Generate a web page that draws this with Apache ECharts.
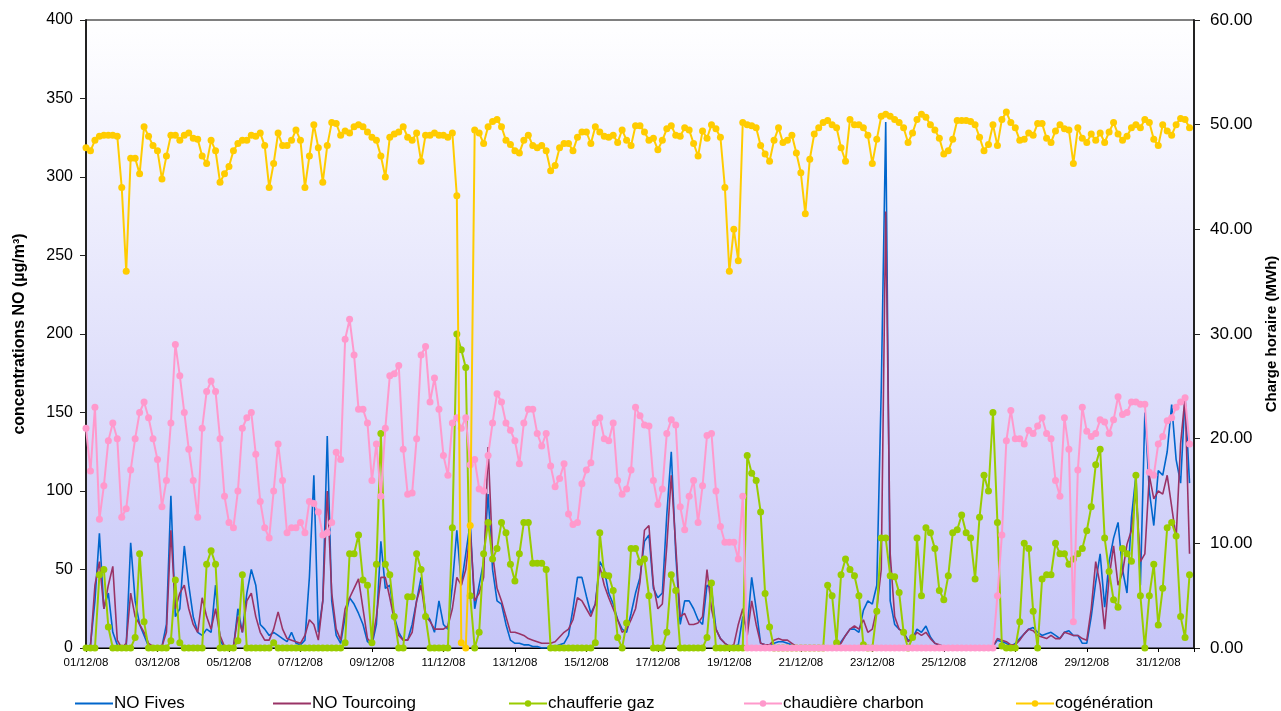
<!DOCTYPE html>
<html><head><meta charset="utf-8">
<script src="https://cdn.jsdelivr.net/npm/echarts@6/dist/echarts.min.js"></script>
<style>html,body{margin:0;padding:0;background:#fff}#c{width:1281px;height:711px}</style>
</head><body><div id="c"></div>
<script>
// 3-hour samples, December 2008 (8 per day, 31 days)
var tickLabels = ['01/12/08','03/12/08','05/12/08','07/12/08','09/12/08','11/12/08','13/12/08','15/12/08','17/12/08','19/12/08','21/12/08','23/12/08','25/12/08','27/12/08','29/12/08','31/12/08'];
var stepHours = 3;

var noFives = [
0,2,30,73,25,35,10,2, 0,1,67,30,15,8,1,0, 0,1,15,97,20,25,65,40, 20,10,8,12,10,40,5,0,
0,0,25,10,35,50,40,15, 12,8,10,8,6,4,10,3, 2,5,45,110,10,30,135,30, 8,3,20,32,28,22,15,4,
2,15,68,38,40,20,10,5, 5,15,30,45,22,18,10,30, 15,12,40,75,40,60,80,25, 40,55,98,50,30,28,15,5,
3,3,2,2,1,1,0,0, 1,1,2,3,8,25,45,45, 33,22,28,55,50,35,28,18, 12,10,22,35,45,68,72,38,
32,35,85,125,60,15,30,30, 25,18,15,40,38,12,6,3, 1,1,2,20,12,45,25,3, 2,1,3,4,4,3,2,1,
1,1,0,0,0,0,0,1, 1,4,8,12,12,10,24,30, 28,40,165,335,30,15,12,10, 5,6,12,10,14,7,3,1,
1,1,0,0,0,0,0,0, 0,0,0,1,5,4,3,1, 3,6,9,12,13,10,8,9, 10,8,6,10,11,8,8,3,
3,20,42,60,26,55,70,80, 50,35,83,110,40,150,100,78, 113,110,125,155,120,105,160,105
];
var noTourcoing = [
0,1,40,55,25,40,52,5, 0,3,35,20,15,10,3,1, 0,1,10,75,25,35,40,25, 15,10,32,20,12,25,8,1,
0,1,20,10,30,35,20,10, 5,5,12,23,12,6,5,4, 3,8,18,15,5,30,100,35, 12,5,25,32,38,44,25,6,
3,20,45,45,32,18,8,5, 5,10,30,40,20,17,12,12, 12,14,25,45,40,50,75,30, 35,45,128,60,38,30,20,10,
10,9,8,6,5,4,3,3, 3,4,7,10,12,18,32,30, 25,20,28,52,40,32,25,18, 10,12,18,25,42,75,78,40,
25,28,65,110,65,20,22,15, 15,16,20,50,25,12,6,3, 1,2,15,25,8,30,15,3, 2,2,5,6,5,5,3,1,
1,1,1,0,0,0,1,1, 0,3,8,12,14,12,18,10, 12,25,50,278,60,20,12,10, 4,6,10,8,10,6,3,2,
1,1,0,0,0,0,0,0, 0,0,0,1,6,5,4,2, 2,5,9,12,11,8,7,6, 8,6,6,10,9,8,8,6,
5,25,55,40,12,45,65,40, 48,66,75,100,55,60,110,95, 100,98,110,90,70,130,160,60
];
var chaufferieGaz = [
0,0,0,7,7.5,2,0,0, 0,0,0,1,9,2.5,0,0, 0,0,0,0.7,6.5,0.5,0,0, 0,0,0,8,9.3,8,0,0,
0,0,0.7,7,0,0,0,0, 0,0,0.5,0,0,0,0,0, 0,0,0,0,0,0,0,0, 0,0,0.5,9,9,10.8,6.5,6,
0.5,8,20.5,8,7,3,0,0, 4.9,4.9,9,7.5,3,0,0,0, 0,0,11.5,30,28.5,26.8,5,0, 1.5,9,12,8.5,9.5,12,11,8,
6.4,9,12,12,8.1,8.1,8.1,7.5, 0,0,0,0,0,0,0,0, 0,0,0.5,11,7,6.9,5.5,1, 0,2.4,9.5,9.5,8.2,8.5,5,0,
0,0,1.5,7,5.5,0,0,0, 0,0,0,1,6.2,0,0,0, 0,0,0,0,18.4,16.7,16,13, 5.2,2,0,0,0,0,0,0,
0,0,0,0,0,0,6,5, 0.5,7,8.5,7.5,6.9,5,0.3,0, 0,3.5,10.5,10.5,6.9,6.8,5.3,1.5, 0,1,10.5,5,11.5,11,9.5,5.5,
4.6,6.9,11,11.3,12.7,11,10.5,6.6, 12.5,16.5,15,22.5,12,0.2,0,0, 0,2.5,10,9.5,3.5,0,6.6,7, 7,10,9,9,8,8.5,9,9.5,
11.2,13.5,17.5,19,10.5,7.3,4.6,3.9, 9.5,9,8.3,16.5,5,0,5,8, 2.2,5.7,11.5,12,10.7,3,1,7
];
var chaudiereCharbon = [
21,16.9,23,12.3,15.5,19.8,21.5,20, 12.5,13.3,17,20,22.5,23.5,22,20, 18,13.5,16,21.5,29,26,22.5,19, 16,12.5,21,24.5,25.5,24.5,20,14.5,
12,11.5,15,21,22,22.5,18.5,14, 11.5,10.5,15,19.5,16,11,11.5,11.5, 12,11,14,13.8,13,10.8,11,12, 18.7,18,29.5,31.4,28,22.8,22.8,21.5,
16,19.5,14.5,21,26,26.2,27,19, 14.7,14.8,20,28,28.8,23.5,25.8,22.8, 18.4,16.5,21.5,22,21,22,17.5,18, 15.2,15,18.4,21.5,24.3,23.5,21.5,20.8,
19.8,17.6,21.5,22.8,22.8,20.5,19.3,20.5, 17.4,15.4,16.2,17.6,12.8,11.8,12,15.7, 17,17.7,21.5,22,20,19.8,21.5,16, 14.7,15.2,17,23,22.2,21.3,21.2,16,
13.7,15.2,20.5,21.8,21.3,13.5,11.3,14.5, 16,12,15.5,20.3,20.5,15,11.6,10.1, 10.1,10.1,8.5,14.5,0,0,0,0, 0,0,0,0,0,0,0,0,
0,0,0,0,0,0,0,0, 0,0,0,0,0,0,0,0, 0,0,0,0,0,0,0,0, 0,0,0,0,0,0,0,0,
0,0,0,0,0,0,0,0, 0,0,0,0,5,10.8,19.8,22.7, 20,20,19.5,20.8,20.5,21.2,22,20.5, 20,16,14.5,22,19,2.5,17,23,
20.7,20.2,20.5,21.8,21.6,20.5,21.8,24, 22.3,22.5,23.5,23.5,23.3,23.3,16.8,16.5, 19.5,20.2,21.7,22,23,23.5,23.9,19.5
];
var cogeneration = [
47.8,47.5,48.5,48.9,49,49,49,48.9, 44,36,46.8,46.8,45.3,49.8,48.9,48, 47.5,44.8,47,49,49,48.5,49,49.2, 48.7,48.6,47,46.3,48.5,47.5,44.5,45.3,
46,47.5,48.2,48.5,48.5,49,48.9,49.2, 48,44,46.3,49.2,48,48,48.5,49.5, 48.5,44,47,50,47.8,44.5,48,50.2, 50.1,49,49.4,49.2,49.8,50,49.8,49.3,
48.8,48.5,47,45,48.8,49.1,49.3,49.8, 48.8,48.5,49.2,46.5,49,49,49.2,49, 49,48.8,49.2,43.2,0.5,0,11.7,49.5, 49.2,48.2,49.8,50.3,50.5,49.8,48.5,48.1,
47.5,47.3,48.5,49,48,47.8,48,47.5, 45.6,46.1,47.8,48.2,48.2,47.5,48.8,49.3, 49.3,48.2,49.8,49.3,48.9,48.8,49,48.3, 49.5,48.5,48,49.9,49.9,49.3,48.5,48.7,
47.6,48.5,49.6,49.9,49,48.9,49.7,49.5, 48.2,47,49.4,48.7,50,49.6,48.8,44, 36,40,37,50.2,50,49.9,49.7,48, 47.2,46.5,48.5,49.7,48.3,48.5,49,47.3,
45.4,41.5,46.7,49.1,49.7,50.2,50.4,50, 49.7,47.8,46.5,50.5,50,50,49.7,49, 46.3,48.6,50.8,51,50.8,50.5,50.2,49.7, 48.3,49.2,50.5,51,50.7,50,49.5,48.7,
47.2,47.5,48.6,50.4,50.4,50.4,50.3,50, 48.8,47.5,48.1,50,48,50.5,51.2,50.2, 49.7,48.5,48.6,49.2,49,50.1,50.1,48.7, 48.3,49.4,50,49.6,49.5,46.3,49.7,48.7,
48.3,49.1,48.5,49.2,48.3,49.3,50.2,49.1, 48.5,48.9,49.7,50,49.7,50.5,50.2,48.6, 48,50,49.4,49,50,50.6,50.5,49.7
];

function pairs(arr){ return arr.map(function(v,i){ return [i*stepHours, v]; }); }

var chart = echarts.init(document.getElementById('c'), null, {renderer:'canvas'});
var font = 'Liberation Sans, Arial, sans-serif';
var lg = function(name, left, plain){
  var o = {data:[name], left:left, top:690, itemWidth:38, itemHeight:plain ? 2 : 8, itemGap:10,
    textStyle:{fontFamily:font, fontSize:17, color:'#000', padding:[0,0,0,-4]}};
  if (plain) o.icon = 'rect';
  return o;
};
chart.setOption({
  animation:false,
  backgroundColor:'#ffffff',
  grid:{left:86, right:87, top:20, bottom:63, containLabel:false, outerBoundsMode:'none',
    show:true, borderColor:'#000', borderWidth:1,
    backgroundColor:{type:'linear', x:0, y:0, x2:0, y2:1, colorStops:[{offset:0,color:'#ffffff'},{offset:1,color:'#c6c6f8'}]}},
  legend:[lg('NO Fives',70,true), lg('NO Tourcoing',268,true), lg('chaufferie gaz',503,false), lg('chaudière charbon',738,false), lg('cogénération',1010,false)],
  xAxis:{type:'value', min:0, max:744, interval:48,
    axisLine:{show:true, lineStyle:{color:'#000', width:1}},
    axisTick:{show:true, length:4, lineStyle:{color:'#000'}},
    splitLine:{show:false},
    axisLabel:{fontFamily:font, fontSize:11.5, color:'#000', margin:9,
      formatter:function(v){ var k=Math.round(v/48); return (v%48===0 && tickLabels[k]) ? tickLabels[k] : ''; }}
  },
  yAxis:[
    {type:'value', min:0, max:400, interval:50, position:'left',
      name:'concentrations NO (µg/m³)', nameLocation:'middle', nameRotate:90, nameGap:58,
      nameTextStyle:{fontFamily:font, fontSize:16, fontWeight:'bold', color:'#000'},
      axisLine:{show:true, lineStyle:{color:'#222', width:2}},
      axisTick:{show:true, inside:false, length:6, lineStyle:{color:'#222'}},
      splitLine:{show:false},
      axisLabel:{fontFamily:font, fontSize:16, color:'#000', margin:13}
    },
    {type:'value', min:0, max:60, interval:10, position:'right',
      name:'Charge horaire (MWh)', nameLocation:'middle', nameRotate:90, nameGap:70,
      nameTextStyle:{fontFamily:font, fontSize:15, fontWeight:'bold', color:'#000'},
      axisLine:{show:true, lineStyle:{color:'#222', width:2}},
      axisTick:{show:true, inside:false, length:6, lineStyle:{color:'#222'}},
      splitLine:{show:false},
      axisLabel:{fontFamily:font, fontSize:17, color:'#000', margin:16, formatter:function(v){return v.toFixed(2);}}
    }
  ],
  series:[
    {name:'NO Fives', type:'line', yAxisIndex:0, data:pairs(noFives), showSymbol:false, symbol:'none',
      lineStyle:{color:'#0066CC', width:1.6}, itemStyle:{color:'#0066CC'}, z:2},
    {name:'NO Tourcoing', type:'line', yAxisIndex:0, data:pairs(noTourcoing), showSymbol:false, symbol:'none',
      lineStyle:{color:'#993366', width:1.6}, itemStyle:{color:'#993366'}, z:2},
    {name:'chaufferie gaz', type:'line', yAxisIndex:1, data:pairs(chaufferieGaz), symbol:'circle', symbolSize:7,
      lineStyle:{color:'#99CC00', width:2}, itemStyle:{color:'#99CC00'}, z:3},
    {name:'chaudière charbon', type:'line', yAxisIndex:1, data:pairs(chaudiereCharbon), symbol:'circle', symbolSize:7,
      lineStyle:{color:'#FF99CC', width:2}, itemStyle:{color:'#FF99CC'}, z:4},
    {name:'cogénération', type:'line', yAxisIndex:1, data:pairs(cogeneration), symbol:'circle', symbolSize:7,
      lineStyle:{color:'#FFCC00', width:2}, itemStyle:{color:'#FFCC00'}, z:5}
  ]
});
</script>
</body></html>
